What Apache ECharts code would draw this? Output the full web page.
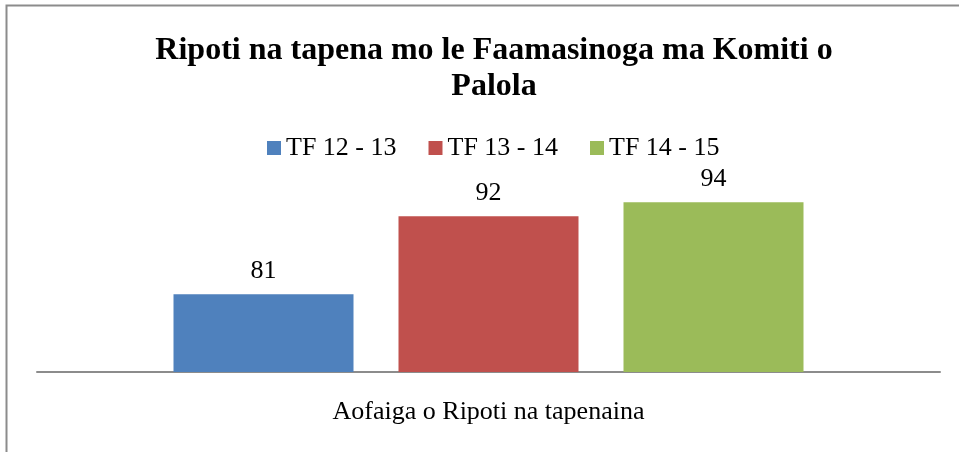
<!DOCTYPE html>
<html>
<head>
<meta charset="utf-8">
<script src="https://cdn.jsdelivr.net/npm/echarts@6/dist/echarts.min.js"></script>
<style>
html,body{margin:0;padding:0;background:#fff;}
#main{width:959px;height:452px;}
</style>
</head>
<body>
<div id="main"></div>
<script>
var categories = ['Aofaiga o Ripoti na tapenaina'];
var seriesNames = ['TF 12 - 13', 'TF 13 - 14', 'TF 14 - 15'];
var seriesValues = [[81], [92], [94]];
var colors = ['#4F81BD', '#C0504D', '#9BBB59'];

var myChart = echarts.init(document.getElementById('main'));
var font = '"Liberation Serif", "Times New Roman", serif';

var series = seriesNames.map(function (name, i) {
	return {
		name: name,
		type: 'bar',
		barWidth: 180,
		barGap: '25%',
		itemStyle: { color: colors[i] },
		label: {
			show: true,
			position: 'top',
			distance: 10,
			color: '#000',
			fontFamily: font,
			fontSize: 26
		},
		data: seriesValues[i]
	};
});

var option = {
	backgroundColor: '#fff',
	animation: false,
	graphic: [{
		type: 'rect',
		shape: { x: 6.5, y: 5.5, width: 1000, height: 500 },
		style: { fill: 'none', stroke: '#8c8c8c', lineWidth: 2 }
	}],
	title: {
		text: 'Ripoti na tapena mo le Faamasinoga ma Komiti o\nPalola',
		left: 489,
		textAlign: 'center',
		top: 28,
		textStyle: {
			fontFamily: font,
			fontSize: 32,
			fontWeight: 'bold',
			color: '#000',
			lineHeight: 36
		}
	},
	legend: {
		top: 130,
		left: 262,
		itemWidth: 14,
		itemHeight: 14,
		itemGap: 32,
		icon: 'rect',
		textStyle: { fontFamily: font, fontSize: 26, color: '#000' },
		data: seriesNames
	},
	grid: { left: 37, right: 19, top: 188, bottom: 80 },
	xAxis: {
		type: 'category',
		data: categories,
		axisLine: { lineStyle: { color: '#8c8c8c', width: 2 } },
		axisTick: { show: false },
		axisLabel: {
			fontFamily: font,
			fontSize: 26,
			color: '#000',
			margin: 27
		}
	},
	yAxis: {
		type: 'value',
		min: 70,
		max: 96,
		show: false,
		splitLine: { show: false }
	},
	series: series
};
myChart.setOption(option);
</script>
</body>
</html>
